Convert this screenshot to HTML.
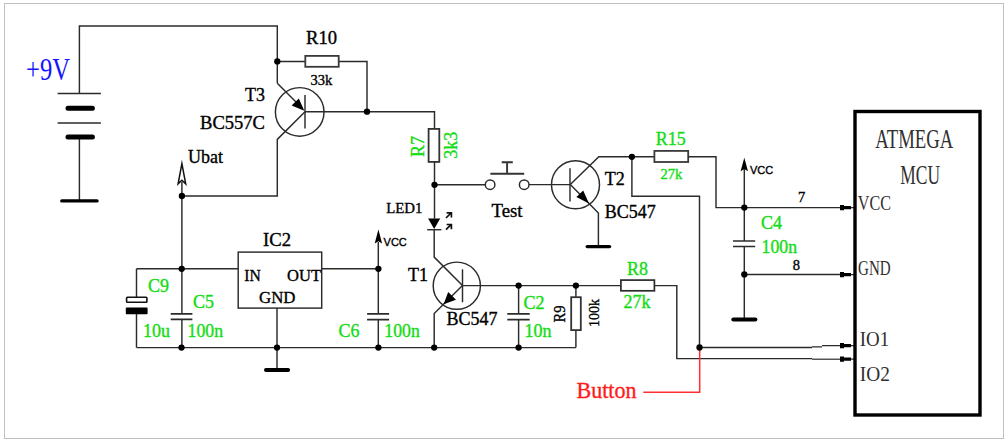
<!DOCTYPE html>
<html><head><meta charset="utf-8">
<style>
html,body{margin:0;padding:0;background:#fff;}
svg{display:block;}
text{font-family:"Liberation Serif",serif;}
.s{font-family:"Liberation Sans",sans-serif;}
.g{fill:#14dc14;stroke:#14dc14;}
text{stroke-width:0.35;}
</style></head>
<body>
<svg width="1008" height="442" viewBox="0 0 1008 442">
<rect x="4.5" y="3.5" width="999" height="435" fill="#fff" stroke="#c0c0c0" stroke-width="1"/>

<g stroke="#2b2b2b" stroke-width="1.45" fill="none" stroke-linecap="butt" stroke-linejoin="miter">
<!-- battery -->
<path d="M79.4 93.5V25.9H277.3V83.2"/>
<path d="M57.6 93.5H100.9M57.6 123H100.9"/>
<path d="M79.4 137V200.9"/>
<!-- R10 -->
<path d="M277.3 61.4H305.3M338.7 61.4H367V111.7"/>
<rect x="305.3" y="55.9" width="33.4" height="10.9" stroke-width="1.8" stroke="#3a3a3a"/>
<!-- T3 -->
<circle cx="299.7" cy="111.9" r="24.3"/>
<path d="M305 95.1V128.5"/>
<path d="M277.3 83.2L296 102"/>
<path d="M305 111.7L277.3 139.4V196H181.9"/>
<path d="M305 111.7H434.5V128.9"/>
<!-- R7 -->
<rect x="428.6" y="128.9" width="10.7" height="33" stroke-width="1.8" stroke="#333"/>
<path d="M434.5 161.9V218.6"/>
<!-- switch -->
<path d="M434.5 184.8H485.2"/>
<circle cx="490.1" cy="184.7" r="4.8"/>
<circle cx="524.2" cy="184.7" r="4.8"/>
<path d="M529 184.6H570"/>
<path d="M490.4 173.8H524.2M507.1 173.8V162.2M501.7 162.2H512.8" stroke-width="1.9" stroke="#333"/>
<!-- LED -->
<path d="M427.2 229.7H441.4"/>
<path d="M434.2 229.7V257.1L462.5 285.6"/>
<!-- T1 -->
<circle cx="456.8" cy="285.7" r="23.6"/>
<path d="M462.5 269.3V302.3"/>
<path d="M462.5 285.6H620.9"/>
<path d="M462.5 285.6L434.2 313.6V347.6"/>
<!-- Ubat -->
<path d="M181.9 182V313.8M181.9 319.4V347.6"/>
<path d="M136.5 268.8H238.2"/>
<path d="M136.5 268.8V297M136.5 313.8V347.6"/>
<rect x="126.6" y="297.2" width="20.3" height="5" stroke="#111" stroke-width="1.6" rx="0.8"/>
<path d="M170.7 313.8H192.4M170.7 319.4H192.4" stroke-width="1.7"/>
<!-- bottom rail -->
<path d="M136.5 347.6H575.9"/>
<!-- IC2 -->
<rect x="238.2" y="252.1" width="83.5" height="56"/>
<path d="M321.7 268.8H378.4"/>
<path d="M277 308.1V369.9"/>
<!-- C6 -->
<path d="M378.3 242V313.8M378.3 319.7V347.6"/>
<path d="M367.1 313.8H389.1M367.1 319.7H389.1" stroke-width="1.7"/>
<!-- C2 -->
<path d="M518.6 285.6V313.8M518.6 319.6V347.6"/>
<path d="M507.3 313.8H529.7M507.3 319.6H529.7" stroke-width="1.7"/>
<!-- R9 -->
<path d="M575.9 285.6V297.2M575.9 330.1V347.6"/>
<rect x="571.2" y="297.2" width="9.6" height="32.9" stroke-width="1.8" stroke="#333"/>
<!-- R8 -->
<rect x="620.9" y="280.1" width="33.5" height="10.7" stroke-width="1.7"/>
<path d="M654.4 285.6H676.8V358.6H812"/>
<path d="M812 359.2H841" stroke-width="1.2"/>
<!-- T2 -->
<circle cx="575.5" cy="184.7" r="24"/>
<path d="M570 168.2V201.5"/>
<path d="M570.3 184.5L598.8 156.7H654.4"/>
<rect x="654.4" y="150.9" width="33.8" height="11.1" stroke-width="1.8" stroke="#3a3a3a"/>
<path d="M688.2 156.7H716V207.6H841"/>
<path d="M631.9 156.8V196.2H699.5V347.5H812"/>
<path d="M812 346.9H822M822 345.6H841" stroke-width="1.2"/>
<path d="M570.3 184.5L598.4 213V246.6"/>
<!-- C4 -->
<path d="M744.3 169V241M744.3 246.5V319.4"/>
<path d="M733 241H755.2M733 246.5H755.2" stroke-width="1.6"/>
<path d="M744.3 274.4H841"/>
<path d="M851 207.6H854M851 274.6H854M851 345.6H854M851 359.1H854" stroke-width="1.2"/>
</g>
<!-- LED arrows -->
<path d="M446 218L451 213M446.6 212.9H451.4V217.6M446 229.6L451 224.6M446.6 224.5H451.4V229.2" stroke="#111" stroke-width="1.7" fill="none"/>
<!-- thick things -->
<g stroke="#000" fill="none">
<path d="M68 108.2H92.4M68 137H92.4" stroke-width="5" stroke-linecap="round"/>
<g stroke-linecap="round">
<path d="M61.8 200.9H97" stroke-width="3.4"/>
<path d="M266 369.9H288.1" stroke-width="4"/>
<path d="M587.2 246.6H609.6" stroke-width="3.3"/>
<path d="M733.3 319.4H755.4" stroke-width="4"/>
</g>
<rect x="855" y="111.5" width="125" height="303.5" stroke-width="3.4"/>
</g>
<!-- red button line -->
<path d="M699.7 347.5V392.2H643.3" stroke="#ff3030" stroke-width="1.5" fill="none"/>

<!-- filled shapes -->
<g fill="#000" stroke="none">
<rect x="125.8" y="307.6" width="21.8" height="6.6" rx="0.8"/>
<!-- T3 emitter arrow (in) -->
<path d="M304.3 110.8L291.6 105.4L298.8 98.4Z"/>
<!-- T1 emitter arrow (out, down-left) -->
<path d="M443.6 304.2L448.2 292L456 299.8Z"/>
<!-- T2 emitter arrow -->
<path d="M589 203.5L576.4 197L583.2 190.6Z"/>
<!-- LED triangle -->
<path d="M428.1 218.6H440.2L434.2 229Z"/>
<!-- vcc arrows -->
<path d="M378.4 229.6L382.1 243.4L378.4 241.2L374.7 243.4Z"/>
<path d="M744.3 157.7L748 171.2L744.3 169L740.6 171.2Z"/>
<!-- pin markers -->
<path d="M840 204.9H844V206H851V209.2H844V210.3H840Z"/>
<path d="M840 271.9H844V273H851V276.2H844V277.3H840Z"/>
<path d="M840 342.9H844V344H851V347.2H844V348.3H840Z"/>
<path d="M840 356.4H844V357.5H851V360.7H844V361.8H840Z"/>
<!-- dots -->
<circle cx="277.3" cy="61.4" r="3.15"/>
<circle cx="367" cy="111.7" r="3.15"/>
<circle cx="181.9" cy="196" r="3.15"/>
<circle cx="181.7" cy="268.8" r="3.15"/>
<circle cx="181.5" cy="347.6" r="3.15"/>
<circle cx="277" cy="347.6" r="3.15"/>
<circle cx="378.4" cy="347.6" r="3.15"/>
<circle cx="434.2" cy="347.6" r="3.15"/>
<circle cx="518.6" cy="347.6" r="3.15"/>
<circle cx="378.4" cy="268.8" r="3.15"/>
<circle cx="434.5" cy="184.8" r="3.15"/>
<circle cx="518.6" cy="285.6" r="3.15"/>
<circle cx="575.9" cy="285.6" r="3.15"/>
<circle cx="631.9" cy="156.8" r="3.15"/>
<circle cx="744.3" cy="207.6" r="3.15"/>
<circle cx="744.3" cy="274.4" r="3.15"/>
<circle cx="699.5" cy="347.5" r="3.15"/>
</g>
<!-- Ubat open arrow -->
<path d="M181.9 163.6L185.7 183.9L181.9 180.3L178.1 183.9Z" fill="#fff" stroke="#111" stroke-width="1.5" stroke-linejoin="miter" stroke-miterlimit="10"/>

<!-- texts -->
<g font-size="18" fill="#000" stroke="#000">
<text style="stroke-width:0" x="26" y="79.7" font-size="32" fill="#1515ff" stroke="#1515ff" textLength="44" lengthAdjust="spacingAndGlyphs">+9V</text>
<text x="306" y="43.8" textLength="31" lengthAdjust="spacingAndGlyphs">R10</text>
<text x="310.5" y="84.5" font-size="14.5">33k</text>
<text x="265" y="100.9" text-anchor="end">T3</text>
<text x="200" y="128.8" textLength="65" lengthAdjust="spacingAndGlyphs">BC557C</text>
<text x="188" y="162.6">Ubat</text>
<text class="g" x="148" y="291.8">C9</text>
<text class="g" x="143" y="336.6">10u</text>
<text class="g" x="193" y="308">C5</text>
<text class="g" x="187.5" y="336.6" textLength="35.5" lengthAdjust="spacingAndGlyphs">100n</text>
<text x="263" y="246" textLength="28" lengthAdjust="spacingAndGlyphs">IC2</text>
<text x="244.2" y="280.7" font-size="17" textLength="16.5" lengthAdjust="spacingAndGlyphs">IN</text>
<text x="287" y="280.7" font-size="17" textLength="34" lengthAdjust="spacingAndGlyphs">OUT</text>
<text x="259" y="302.7" font-size="17.2" textLength="36.5" lengthAdjust="spacingAndGlyphs">GND</text>
<text class="s" x="383.6" y="246" font-size="11">VCC</text>
<text class="g" x="338.6" y="336.6">C6</text>
<text class="g" x="384.3" y="336.6" textLength="35.5" lengthAdjust="spacingAndGlyphs">100n</text>
<text class="g" transform="translate(423.6 157) rotate(-90)">R7</text>
<text class="g" transform="translate(456.9 158.8) rotate(-90)">3k3</text>
<text x="386.3" y="212.5" font-size="14.8">LED1</text>
<text x="491.5" y="217.2" textLength="31" lengthAdjust="spacingAndGlyphs">Test</text>
<text x="408" y="280.6">T1</text>
<text x="446.5" y="324.7">BC547</text>
<text class="g" x="523.6" y="308.6">C2</text>
<text class="g" x="524.6" y="336.5">10n</text>
<text transform="translate(564.6 322.4) rotate(-90)" font-size="16" textLength="17" lengthAdjust="spacingAndGlyphs">R9</text>
<text transform="translate(598.6 327) rotate(-90)" font-size="15.4" textLength="28" lengthAdjust="spacingAndGlyphs">100k</text>
<text class="g" x="626.9" y="275.2">R8</text>
<text class="g" x="623.6" y="308.1">27k</text>
<text x="604.7" y="184.8">T2</text>
<text x="604.7" y="217.9">BC547</text>
<text class="g" x="655.7" y="145.4">R15</text>
<text class="g" x="660.4" y="179" font-size="14.5">27k</text>
<text class="s" x="749.9" y="173.6" font-size="11">VCC</text>
<text x="798.1" y="201.9" font-size="14.5">7</text>
<text x="792.8" y="269.7" font-size="14.5">8</text>
<text class="g" x="761.1" y="229">C4</text>
<text class="g" x="761.6" y="252.6" textLength="35.5" lengthAdjust="spacingAndGlyphs">100n</text>
<text style="stroke-width:0" fill="#303030" x="875.3" y="147.6" font-size="26.4" textLength="78" lengthAdjust="spacingAndGlyphs">ATMEGA</text>
<text style="stroke-width:0" fill="#303030" x="900.3" y="184.4" font-size="26.4" textLength="39.7" lengthAdjust="spacingAndGlyphs">MCU</text>
<text style="stroke-width:0" fill="#303030" x="857.8" y="210.4" font-size="22" textLength="33.2" lengthAdjust="spacingAndGlyphs">VCC</text>
<text style="stroke-width:0" fill="#303030" x="858.1" y="275" font-size="22" textLength="32.6" lengthAdjust="spacingAndGlyphs">GND</text>
<text style="stroke-width:0" fill="#303030" x="859.8" y="345.6" font-size="22" textLength="29.4" lengthAdjust="spacingAndGlyphs">IO1</text>
<text style="stroke-width:0" fill="#303030" x="859.8" y="381.2" font-size="22" textLength="30.1" lengthAdjust="spacingAndGlyphs">IO2</text>
<text x="576.5" y="397.8" font-size="22.5" fill="#ff1a1a" stroke="#ff1a1a" textLength="60" lengthAdjust="spacingAndGlyphs">Button</text>
</g>
</svg>
</body></html>
